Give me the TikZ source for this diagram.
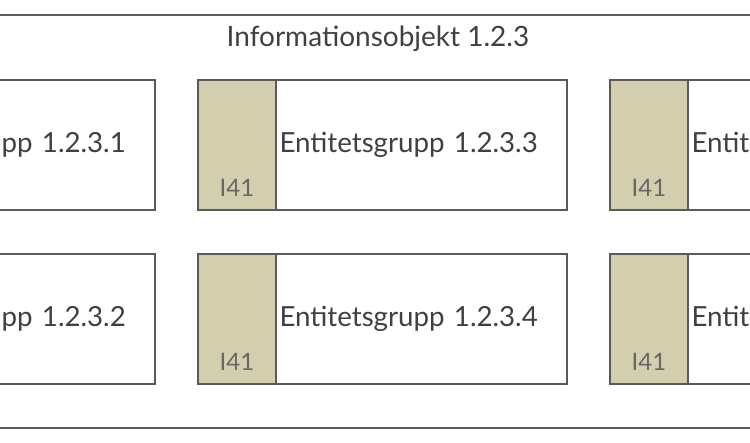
\documentclass[tikz,border=0pt]{standalone}
\usepackage{fontspec}
\setmainfont{Lato}
\definecolor{framegray}{HTML}{5A5A5A}
\definecolor{tanfill}{HTML}{D3CFAE}
\definecolor{textdark}{HTML}{404040}
\definecolor{textgray}{HTML}{666666}
\tikzset{
  frame/.style={draw=framegray, line width=2pt},
  tanbox/.style={draw=framegray, fill=tanfill, line width=2pt, minimum width=78pt, minimum height=130pt, inner sep=0pt, anchor=north west},
  entbox/.style={draw=framegray, fill=white, line width=2pt, minimum height=130pt, text width=284pt, inner xsep=3.5pt, inner ysep=0pt, align=left, anchor=north west, text=textdark, font=\fontsize{27.7}{32}\selectfont},
  idlabel/.style={text=textgray, font=\fontsize{24}{28}\selectfont, anchor=base, inner sep=0pt},
  titlelabel/.style={text=textdark, font=\fontsize{28}{32}\selectfont, anchor=base, inner sep=0pt}
}
\begin{document}
\begin{tikzpicture}[x=1pt,y=-1pt]
\useasboundingbox (0,0) rectangle (750,443);
\clip (0,0) rectangle (750,443);
\node[frame, minimum width=800pt, minimum height=413pt, anchor=north west, inner sep=0pt] (outer) at (-25,14) {};
\node[titlelabel] (title) at (378,47) {Informationsobjekt 1.2.3};
\foreach \c/\L/\na/\nb in {1/-215/1/2, 2/197/3/4, 3/609/5/6}{
  \node[tanbox] (tan-\c-1) at (\L,79) {};
  \node[entbox] (ent-\c-1) at (\L+78,79) {Entitetsgrupp 1.2.3.\na};
  \node[idlabel] (id-\c-1) at ([yshift=14pt]tan-\c-1.south) {I41};
  \node[tanbox] (tan-\c-2) at (\L,253) {};
  \node[entbox] (ent-\c-2) at (\L+78,253) {Entitetsgrupp 1.2.3.\nb};
  \node[idlabel] (id-\c-2) at ([yshift=14pt]tan-\c-2.south) {I41};
}
\end{tikzpicture}
\end{document}
